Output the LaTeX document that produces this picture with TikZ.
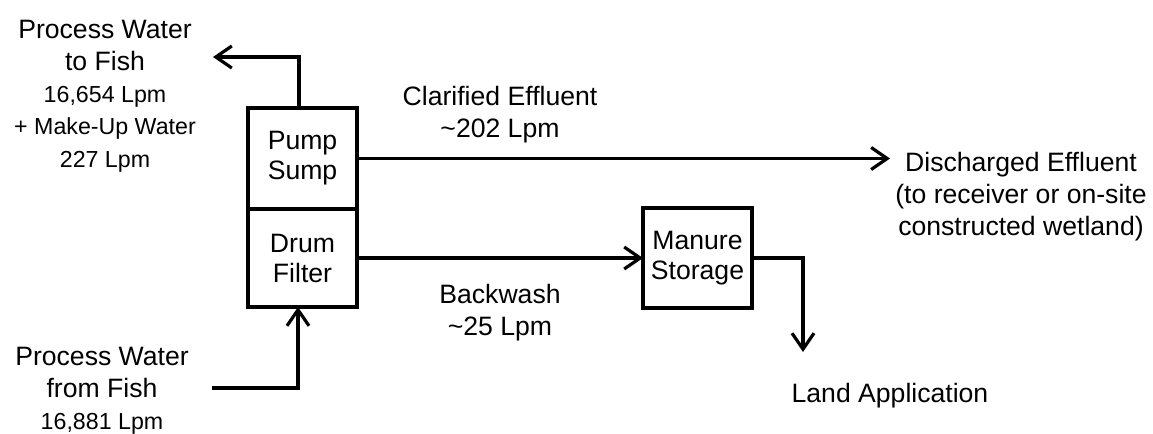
\documentclass[tikz,border=0pt]{standalone}
\usepackage{fontspec}
\setmainfont{Liberation Sans}
\usetikzlibrary{arrows.meta, positioning}

\begin{document}
\begin{tikzpicture}[x=0.5pt, y=-0.5pt, node distance=0pt]
  \tikzset{
    unidade/.style={draw, line width=1.6pt, minimum width=54.5pt, minimum height=50pt,
                    inner sep=0pt, outer sep=0pt, align=center, font=\fontsize{13.3}{15}\selectfont},
    rotulo/.style={align=center, inner sep=0pt, anchor=north, font=\fontsize{13.3}{16.1}\selectfont},
    fluxo/.style={line width=1.6pt, -{Straight Barb[length=8pt, width=11pt]}}}
  \newcommand{\vazao}[1]{{\fontsize{11.6}{16.1}\selectfont #1}}
  \useasboundingbox (0,0) rectangle (1153,434);
  \node[unidade, minimum height=50.5pt] (pump) at (302.5,158.5) {Pump\\Sump};
  \node[unidade, minimum height=49pt, below=of pump] (drum) {Drum\\Filter};
  \node[unidade, right=143pt of drum] (manure) {Manure\\Storage};
  \coordinate (paraPeixe) at (213,57);
  \coordinate (descarga) at (890,158.5);
  \coordinate (aplicacao) at (803,352);
  \coordinate (dosPeixes) at (212,388);
  \draw[fluxo] ([xshift=-1.75pt]pump.north) |- (paraPeixe);
  \draw[fluxo] (pump.east) -- (descarga);
  \draw[fluxo] (drum.east) -- (manure.west);
  \draw[fluxo] (manure.east) -| (aplicacao);
  \draw[fluxo] (dosPeixes) -| ([xshift=-2.25pt]drum.south);
  \node[rotulo] (txtParaPeixe) at (105,19.5)
    {Process Water\\to Fish\\\vazao{16,654 Lpm}\\\vazao{+ Make-Up Water}\\\vazao{227 Lpm}};
  \node[rotulo] (txtClarificado) at (500,85.5) {Clarified Effluent\\\textasciitilde202 Lpm};
  \node[rotulo] (txtRetrolavagem) at (500,283.5) {Backwash\\\textasciitilde25 Lpm};
  \node[rotulo] (txtDescarga) at (1021,151.5)
    {Discharged Effluent\\(to receiver or on-site\\constructed wetland)};
  \node[rotulo] (txtAplicacao) at (890,382.5) {Land Application};
  \node[rotulo] (txtDosPeixes) at (102,346.5) {Process Water\\from Fish\\\vazao{16,881 Lpm}};
\end{tikzpicture}
\end{document}
